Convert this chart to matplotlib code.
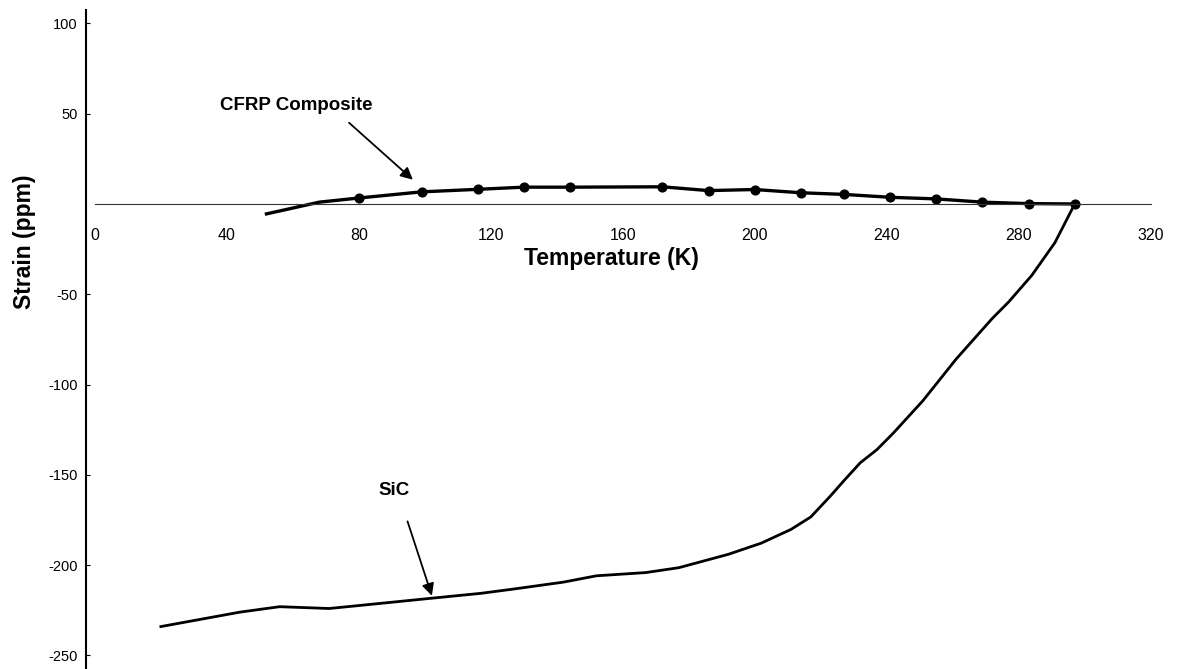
import matplotlib
matplotlib.use('Agg')
import matplotlib.pyplot as plt

plt.rcParams['font.family'] = ['Liberation Sans', 'DejaVu Sans']

# CFRP composite: leading two points have no marker
cfrp_temp = [52, 68, 80, 99, 116, 130, 144, 172, 186, 200, 214, 227, 241, 255, 269, 283, 297]
cfrp_strain = [-5.5, 1.0, 3.3, 6.7, 8.1, 9.3, 9.3, 9.5, 7.4, 8.0, 6.2, 5.3, 3.7, 2.8, 1.0, 0.2, 0.0]

# SiC
sic_temp = [20, 32, 44, 56, 71, 82, 101, 117, 127, 142, 152, 167, 177, 192, 202, 211, 217,
            223, 227, 232, 237, 242, 251, 261, 272, 277, 284, 291, 297]
sic_strain = [-234, -230, -226, -223, -224, -222, -218.5, -215.6, -213.2, -209.4, -205.9,
              -204.1, -201.4, -194.0, -187.8, -180.2, -173.3, -161.6, -153.3, -143.3,
              -136.1, -126.9, -108.9, -86.0, -63.4, -54.2, -39.5, -21.4, 0.0]

x_ticks = [0, 40, 80, 120, 160, 200, 240, 280, 320]
y_ticks = [-250, -200, -150, -100, -50, 50, 100]

fig = plt.figure(figsize=(11.77, 6.69), dpi=100)
ax = fig.add_axes([86 / 1177, 0.0, 1091 / 1177, 659 / 669])

ax.plot(sic_temp, sic_strain, color='black', linewidth=2.0)
ax.plot(cfrp_temp, cfrp_strain, color='black', linewidth=2.4,
        marker='o', markersize=6.3, markevery=slice(2, None))

ax.set_xlim(-2.7, 328)
ax.set_ylim(-257.5, 107.4)

# axes styling
ax.spines['top'].set_visible(False)
ax.spines['right'].set_visible(False)
ax.spines['left'].set_linewidth(1.5)
ax.spines['bottom'].set_position(('data', 0))
ax.spines['bottom'].set_bounds(0, 320)
ax.spines['bottom'].set_linewidth(0.8)
ax.spines['bottom'].set_color('#333333')

ax.set_xticks(x_ticks)
ax.set_xticklabels([str(t) for t in x_ticks])
ax.tick_params(axis='x', length=0, pad=17, labelsize=11.5)
ax.set_yticks(y_ticks)
ax.set_yticklabels([str(t) for t in y_ticks])
ax.tick_params(axis='y', direction='in', length=3, width=0.8, pad=6, labelsize=10.5)

ax.set_xlabel('Temperature (K)', fontsize=16.5, fontweight='bold')
ax.xaxis.set_label_coords(0.482, 0.64)
ax.set_ylabel('Strain (ppm)', fontsize=16.5, fontweight='bold')
ax.yaxis.set_label_coords(-0.046, 0.648)

# labels with arrows
ax.annotate('', xy=(97, 12.4), xytext=(76.4, 46),
            arrowprops=dict(arrowstyle='-|>', color='black', lw=1.3,
                            mutation_scale=18))
ax.text(60.9, 54.7, 'CFRP Composite', fontsize=13.5, fontweight='bold',
        ha='center', va='center')

ax.annotate('', xy=(102.4, -218.4), xytext=(94.5, -174.3),
            arrowprops=dict(arrowstyle='-|>', color='black', lw=1.3,
                            mutation_scale=18))
ax.text(90.6, -158.6, 'SiC', fontsize=13.5, fontweight='bold',
        ha='center', va='center')

plt.savefig('out.png', dpi=100)
